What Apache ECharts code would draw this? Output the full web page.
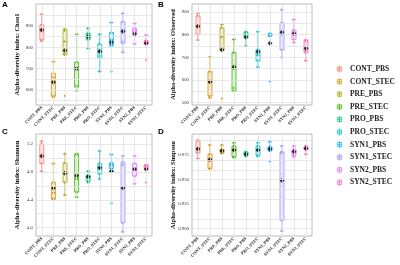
<!DOCTYPE html>
<html>
<head>
<meta charset="utf-8">
<script src="https://cdn.jsdelivr.net/npm/echarts@6/dist/echarts.min.js"></script>
</head>
<body style="margin: 0;">
<div
    id="ch"
    style="width: 400px; height: 265px;"
></div>

<script>
var groups = ['CONT_PBS', 'CONT_STEC', 'PRE_PBS', 'PRE_STEC', 'PRO_PBS', 'PRO_STEC', 'SYN1_PBS', 'SYN1_STEC', 'SYN2_PBS', 'SYN2_STEC']
var colors = ['#F8766D', '#D89000', '#A3A500', '#39B600', '#00BF7D', '#00BFC4', '#00B0F6', '#9590FF', '#E76BF3', '#FF62BC']

// [min, Q1, median, Q3, max]
var chaoBox = [
    [830, 835, 878, 905, 955], [567, 572, 640, 679, 733], [765, 767, 827, 882, 886], [597, 614, 705, 730, 861], [796, 835, 858, 866, 889],
    [687, 749, 785, 816, 861], [808, 810, 835, 869, 916], [777, 819, 880, 920, 959], [816, 866, 878, 889, 912], [816, 816, 825, 832, 858]
]
var chaoMean = [881, 636, 785, 700, 850, 780, 824, 874, 863, 819]
var chaoPts = [
    [955, 903, 880, 835, 830], [733, 660, 640, 572, 567], [886, 878, 827, 767, 765, 573], [861, 730, 705, 620, 597], [889, 866, 858, 840, 796],
    [861, 816, 785, 760, 687], [916, 869, 835, 812, 808, 687], [959, 920, 880, 825, 777], [912, 889, 878, 866, 816], [858, 832, 825, 816, 741]
]
var chaoTicks = [600, 700, 800, 900]

var obsBox = [
    [776, 801, 835, 883, 893], [522, 529, 590, 638, 701], [730, 730, 790, 830, 845], [551, 551, 650, 721, 779], [750, 787, 795, 810, 813],
    [657, 685, 710, 733, 813], [794, 794, 800, 805, 805], [699, 733, 800, 852, 910], [765, 779, 800, 820, 867], [685, 721, 730, 776, 776]
]
var obsMean = [837, 592, 733, 657, 788, 725, 762, 810, 805, 740]
var obsPts = [
    [893, 883, 835, 801, 776], [701, 635, 590, 530, 522], [845, 830, 790, 730, 519], [779, 721, 650, 565, 551], [813, 805, 795, 787, 750],
    [813, 733, 710, 685, 657], [805, 800, 797, 794, 595], [910, 852, 800, 733, 699], [867, 820, 800, 779, 765], [776, 770, 730, 721, 685]
]
var obsTicks = [500, 600, 700, 800, 900]

var shanBox = [
    [4.81, 4.92, 5.0, 5.2, 5.24], [4.41, 4.41, 4.5, 4.65, 4.92], [4.47, 4.65, 4.8, 4.93, 5.06], [4.44, 4.51, 4.7, 5.05, 5.06], [4.65, 4.67, 4.72, 4.75, 4.81],
    [4.70, 4.77, 4.85, 4.92, 5.10], [4.81, 4.85, 4.9, 4.93, 5.05], [3.94, 4.07, 4.9, 4.94, 5.03], [4.63, 4.74, 4.85, 4.92, 5.03], [4.85, 4.85, 4.88, 4.9, 4.9]
]
var shanMean = [5.03, 4.57, 4.78, 4.745, 4.73, 4.86, 4.81, 4.57, 4.84, 4.84]
var shanPts = [
    [5.24, 5.2, 5.0, 4.92, 4.81], [4.92, 4.65, 4.5, 4.42, 4.41], [5.06, 4.93, 4.8, 4.65, 4.47], [5.06, 5.05, 4.7, 4.51, 4.44], [4.81, 4.75, 4.72, 4.67, 4.65],
    [5.10, 4.92, 4.85, 4.77, 4.70], [5.05, 4.93, 4.9, 4.85, 4.81, 4.35], [5.03, 4.94, 4.9, 4.07, 3.94], [5.03, 4.92, 4.85, 4.74, 4.63], [4.9, 4.89, 4.88, 4.85, 4.65]
]
var shanTicks = [4.0, 4.4, 4.8, 5.2]

var simpBox = [
    [0.9716, 0.9774, 0.9820, 0.9894, 0.9905], [0.9612, 0.9612, 0.9690, 0.9760, 0.9853], [0.9767, 0.9774, 0.9790, 0.9808, 0.9853], [0.9726, 0.9733, 0.9800, 0.9843, 0.9877], [0.9740, 0.9750, 0.9760, 0.9784, 0.9784],
    [0.9740, 0.9750, 0.9800, 0.9843, 0.9877], [0.9795, 0.9795, 0.9820, 0.9836, 0.9888], [0.8976, 0.9086, 0.9770, 0.9784, 0.9843], [0.9733, 0.9750, 0.9790, 0.9808, 0.9843], [0.9760, 0.9808, 0.9820, 0.9836, 0.9843]
]
var simpMean = [0.9812, 0.9705, 0.9795, 0.9802, 0.9760, 0.9802, 0.9812, 0.9492, 0.9784, 0.9819]
var simpPts = [
    [0.9905, 0.9894, 0.9820, 0.9774, 0.9716], [0.9853, 0.9760, 0.9690, 0.9615, 0.9612], [0.9853, 0.9808, 0.9790, 0.9774, 0.9767], [0.9877, 0.9843, 0.9800, 0.9733, 0.9726], [0.9784, 0.9780, 0.9760, 0.9750, 0.9740],
    [0.9877, 0.9843, 0.9800, 0.9750, 0.9740], [0.9888, 0.9836, 0.9820, 0.9795, 0.9688], [0.9843, 0.9784, 0.9770, 0.9086, 0.8976], [0.9843, 0.9808, 0.9790, 0.9750, 0.9733], [0.9843, 0.9836, 0.9820, 0.9808, 0.9760]
]
var simpTicks = [0.900, 0.925, 0.950, 0.975]

var serif = '"Liberation Serif", "Times New Roman", serif'
var lineCol = '#e2e2e2'

function tint(hex, a) {
    var r = parseInt(hex.slice(1, 3), 16)
    var g = parseInt(hex.slice(3, 5), 16)
    var b = parseInt(hex.slice(5, 7), 16)
    return 'rgba(' + r + ',' + g + ',' + b + ',' + a + ')'
}

var panels = [
    { letter: 'A', name: 'Alpha-diversity index: Chao1', box: chaoBox, mean: chaoMean, pts: chaoPts, ticks: chaoTicks,
      grid: { left: 36, top: 4, width: 116, height: 101 }, min: 530, max: 1003, step: 10, dec: 0 },
    { letter: 'B', name: 'Alpha-diversity index: Observed', box: obsBox, mean: obsMean, pts: obsPts, ticks: obsTicks,
      grid: { left: 192, top: 4, width: 120, height: 101 }, min: 490, max: 935, step: 10, dec: 0 },
    { letter: 'C', name: 'Alpha-diversity index: Shannon', box: shanBox, mean: shanMean, pts: shanPts, ticks: shanTicks,
      grid: { left: 36, top: 134, width: 116, height: 102 }, min: 3.88, max: 5.345, step: 0.04, dec: 1 },
    { letter: 'D', name: 'Alpha-diversity index: Simpson', box: simpBox, mean: simpMean, pts: simpPts, ticks: simpTicks,
      grid: { left: 192, top: 134, width: 120, height: 102 }, min: 0.8925, max: 0.9966, step: 0.0025, dec: 3 }
]

var grids = [], xAxes = [], yAxes = [], series = [], titles = []

// only the listed ticks get a label
function makeFmt(ticks, dec) {
    return function(v) {
        for (var t = 0; t < ticks.length; t++) {
            if (Math.abs(v - ticks[t]) < 1e-6) return ticks[t].toFixed(dec)
        }
        return ''
    }
}

panels.forEach(function(p, i) {
    grids.push(Object.assign({ show: true, borderColor: '#aaa', borderWidth: 0.8 }, p.grid))
    titles.push({
        text: p.letter,
        left: p.grid.left - 34,
        top: p.grid.top - 3 + (i > 1 ? -3 : 0),
        padding: 0,
        textStyle: { fontSize: 8, fontWeight: 'bold', color: '#000', fontFamily: 'Arial, sans-serif' }
    })
    xAxes.push({
        type: 'category', gridIndex: i, data: groups,
        axisLine: { show: false }, axisTick: { show: false }, splitLine: { show: false },
        axisLabel: { rotate: 45, margin: 2, fontSize: 4.4, fontWeight: 'bold', fontFamily: serif, color: '#222', interval: 0 }
    })
    yAxes.push({
        type: 'value', gridIndex: i, min: p.min, max: p.max, interval: p.step,
        name: p.name, nameLocation: 'middle', nameGap: 15, nameMoveOverlap: false,
        nameTextStyle: { fontSize: 6.5, fontWeight: 'bold', fontFamily: serif, color: '#111' },
        axisLine: { show: false }, axisTick: { show: false }, splitLine: { show: false },
        axisLabel: { margin: 3, fontSize: 4.8, fontFamily: serif, color: '#333', formatter: makeFmt(p.ticks, p.dec) }
    })

    // background grid: major ticks, half-way minor lines, and one line per group
    var half = (p.ticks[1] - p.ticks[0]) / 2
    var lines = []
    p.ticks.forEach(function(t) {
        lines.push({ yAxis: t })
        if (t - half > p.min) lines.push({ yAxis: t - half })
    })
    var top = p.ticks[p.ticks.length - 1] + half
    if (top < p.max) lines.push({ yAxis: top })
    groups.forEach(function(g) { lines.push({ xAxis: g }) })
    series.push({
        type: 'line', xAxisIndex: i, yAxisIndex: i, data: [], silent: true, z: 1,
        markLine: {
            silent: true, symbol: 'none', animation: false,
            label: { show: false },
            lineStyle: { color: lineCol, width: 0.8, type: 'solid' },
            emphasis: { disabled: true },
            data: lines
        }
    })

    // boxes
    series.push({
        type: 'boxplot', xAxisIndex: i, yAxisIndex: i, boxWidth: [4, 4], z: 2,
        silent: true,
        data: p.box.map(function(b, g) {
            return { value: b, itemStyle: { color: tint(colors[g], 0.15), borderColor: colors[g], borderWidth: 0.8 } }
        })
    })
    // samples
    var pts = []
    p.pts.forEach(function(arr, g) {
        arr.forEach(function(v) { pts.push([g, v]) })
    })
    series.push({
        type: 'scatter', xAxisIndex: i, yAxisIndex: i, symbolSize: 2.5, z: 3, silent: true,
        itemStyle: { color: function(q) { return colors[q.value[0]] }, opacity: 0.85 },
        data: pts
    })
    // means
    series.push({
        type: 'scatter', xAxisIndex: i, yAxisIndex: i, symbol: 'diamond', symbolSize: 5, z: 4, silent: true,
        itemStyle: { color: '#000' },
        data: p.mean.map(function(m, g) { return [g, m] })
    })
})

// legend entries
groups.forEach(function(g, k) {
    series.push({ type: 'scatter', name: g, xAxisIndex: 0, yAxisIndex: 0, data: [], itemStyle: { color: colors[k] } })
})

var chartInst = echarts.init(document.getElementById('ch'))
chartInst.setOption({
    animation: false,
    backgroundColor: '#fff',
    title: titles,
    grid: grids,
    xAxis: xAxes,
    yAxis: yAxes,
    legend: {
        orient: 'vertical', left: 332, top: 60,
        itemWidth: 7, itemHeight: 7, itemGap: 4.6,
        textStyle: { fontSize: 7.5, fontWeight: 'bold', fontFamily: serif, color: '#222', lineHeight: 8, padding: [0, 0, 0, 2] },
        data: groups.map(function(g, k) {
            return {
                name: g,
                icon: 'path://M2,2H8V8H2Z M5,0V10 M2,5H8',
                itemStyle: { color: tint(colors[k], 0.25), borderColor: colors[k], borderWidth: 0.8 }
            }
        })
    },
    series: series
})
</script>
</body>
</html>
